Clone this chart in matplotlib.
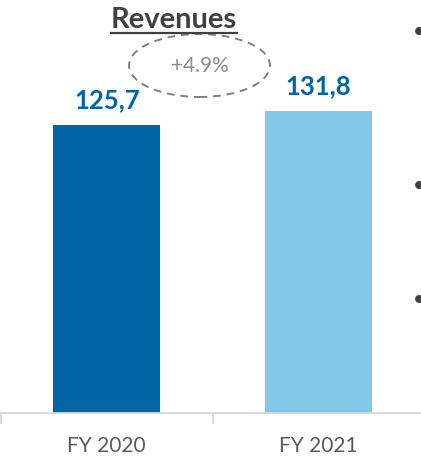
import matplotlib.pyplot as plt
from matplotlib.patches import Ellipse
from matplotlib.lines import Line2D

plt.rcParams['font.family'] = ['Lato', 'DejaVu Sans']

# data
categories = ['FY 2020', 'FY 2021']
revenues = [125.7, 131.8]
bar_colors = ['#0065A2', '#83C7E6']
title = 'Revenues'

growth = (revenues[1] / revenues[0] - 1) * 100

fig = plt.figure(figsize=(4.21, 4.59), dpi=100)
ax = fig.add_axes([1 / 421, 46.5 / 459, 423 / 421, 411.7 / 459])

x = range(len(categories))
bars = ax.bar(x, revenues, width=0.505, color=bar_colors)

# value labels, comma as decimal separator
for b, v in zip(bars, revenues):
    ax.annotate(f'{v:.1f}'.replace('.', ','), (b.get_x() + b.get_width() / 2, v),
                xytext=(0, 9), textcoords='offset points', ha='center', va='bottom',
                fontsize=18.5, fontweight='bold', color='#0065A2')

ax.set_xlim(-0.5, 1.5)
ax.set_ylim(0, 180)
ax.set_yticks([])
for s in ['top', 'right', 'left']:
    ax.spines[s].set_visible(False)
ax.spines['bottom'].set_color('#d9d9d9')
ax.spines['bottom'].set_linewidth(1.3)

ax.set_xticks(list(x))
ax.set_xticklabels(categories, fontsize=15, color='#595959')
ax.tick_params(axis='x', which='major', length=0, pad=17)
ax.set_xticks([-0.5, 0.5, 1.5], minor=True)
ax.tick_params(axis='x', which='minor', length=8, width=1.3, color='#d9d9d9')

# title with underline
fig.text(174 / 421, 1 - 28 / 459, title, ha='center', va='baseline',
         fontsize=21, fontweight='bold', color='#404040')
fig.add_artist(Line2D([111 / 421, 237 / 421], [1 - 32.5 / 459, 1 - 32.5 / 459],
                      color='#404040', lw=1.6))

# growth bubble
fig.add_artist(Ellipse((199.5 / 421, 1 - 65.5 / 459), 141 / 421, 63 / 459,
                       transform=fig.transFigure, fill=False, ls=(0, (4, 3)),
                       edgecolor='#808080', lw=1.4))
fig.text(199.5 / 421, 1 - 66.5 / 459, f'+{growth:.1f}%', ha='center', va='center',
         fontsize=15, color='#8c8c8c')

# bullets of the neighbouring text, cut by the crop as in the source slide
for yy in [32, 186, 300]:
    fig.text(413 / 421, 1 - yy / 459, '\u2022', ha='left', va='center',
             fontsize=15, color='#404040')

fig.savefig('out.png', dpi=100)
